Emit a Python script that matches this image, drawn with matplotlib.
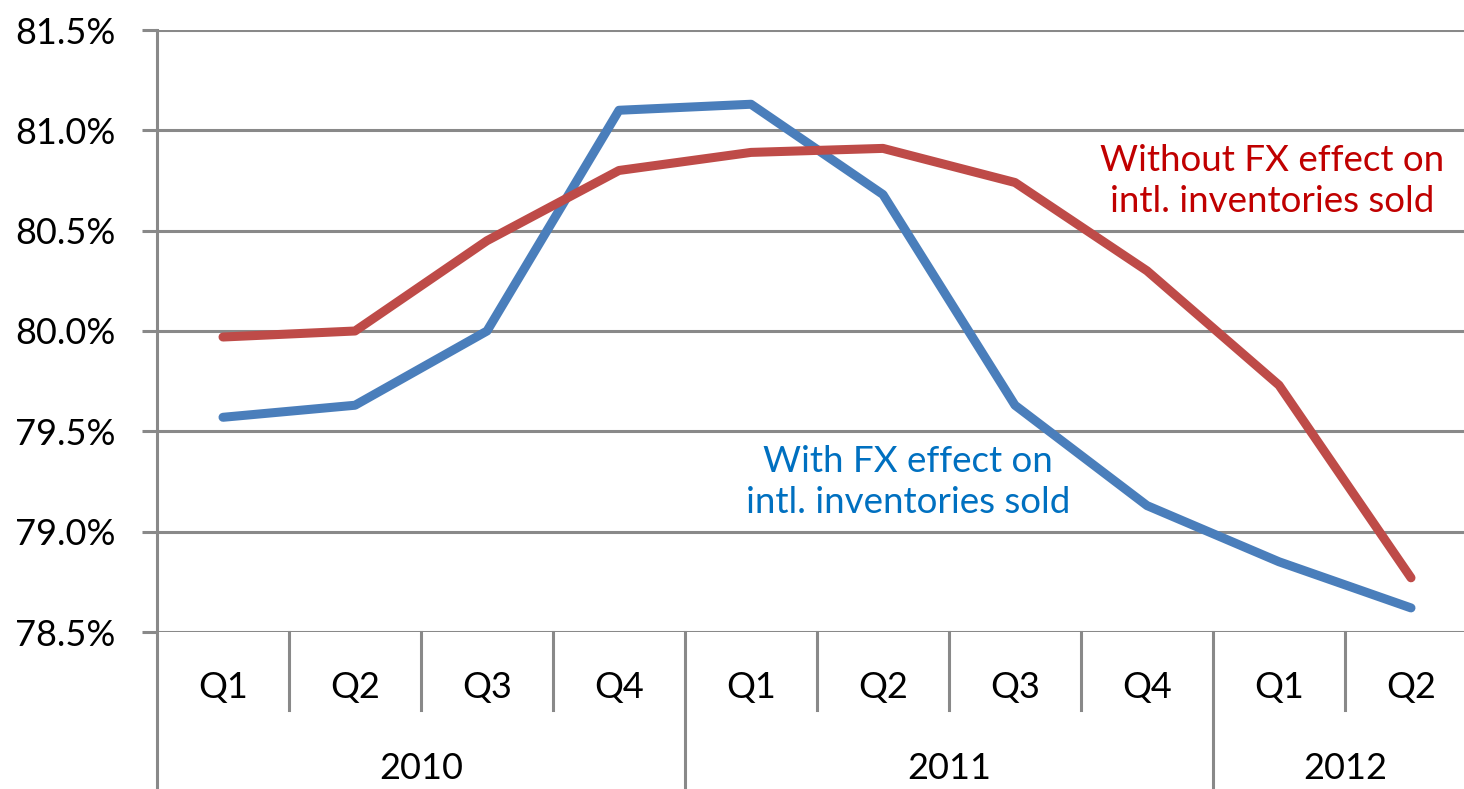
import matplotlib
matplotlib.use("Agg")
import matplotlib.pyplot as plt
from matplotlib.ticker import FuncFormatter
import matplotlib.transforms as mtransforms

quarters = ["Q1", "Q2", "Q3", "Q4", "Q1", "Q2", "Q3", "Q4", "Q1", "Q2"]
years = ["2010", "2011", "2012"]
year_spans = [(0, 3), (4, 7), (8, 9)]
with_fx = [79.57, 79.63, 80.00, 81.10, 81.13, 80.68, 79.63, 79.13, 78.85, 78.62]
without_fx = [79.97, 80.00, 80.45, 80.80, 80.89, 80.91, 80.74, 80.30, 79.73, 78.77]

plt.rcParams["font.family"] = ["Lato", "DejaVu Sans"]
GRID = "#898989"

fig = plt.figure(figsize=(14.64, 7.89), dpi=100)
ax = fig.add_axes([157 / 1464, 1 - 632 / 789, 1320 / 1464, 602 / 789])

x = list(range(len(quarters)))
ax.plot(x, with_fx, color="#4A7EBB", linewidth=6.5, solid_capstyle="round", solid_joinstyle="round", zorder=3)
ax.plot(x, without_fx, color="#BE4B48", linewidth=6.5, solid_capstyle="round", solid_joinstyle="round", zorder=3)

ax.set_xlim(-0.5, len(quarters) - 0.5)
ax.set_ylim(78.5, 81.5)
ax.set_yticks([78.5, 79.0, 79.5, 80.0, 80.5, 81.0, 81.5])
ax.yaxis.set_major_formatter(FuncFormatter(lambda v, _: f"{v:.1f}%"))
ax.yaxis.grid(True, color=GRID, linewidth=2.2)
ax.set_axisbelow(True)
ax.tick_params(axis="y", length=11, width=2.2, color=GRID, pad=19, labelsize=26)
ax.set_xticks([])
for s in ["top", "right", "bottom", "left"]:
    ax.spines[s].set_visible(False)

trans = mtransforms.blended_transform_factory(ax.transData, ax.transAxes)
# left axis line running down through the category area
ax.plot([-0.5, -0.5], [1, -0.261], transform=trans, color=GRID, linewidth=2.2, clip_on=False)
# quarter / year separators
for i in range(1, len(quarters)):
    bound = i - 0.5
    is_year = any(bound == s - 0.5 for s, _ in year_spans)
    y0 = -0.261 if is_year else -0.1296
    ax.plot([bound, bound], [0, y0], transform=trans, color=GRID, linewidth=2.2, clip_on=False)
for i, q in enumerate(quarters):
    ax.text(i, -0.0914, q, transform=trans, ha="center", va="center", fontsize=26)
for yr, (a, b) in zip(years, year_spans):
    ax.text((a + b) / 2, -0.226, yr, transform=trans, ha="center", va="center", fontsize=26)

ax.text(7.947, 80.748, "Without FX effect on\nintl. inventories sold", color="#C00000",
        ha="center", va="center", fontsize=26.5, linespacing=1.3)
ax.text(5.19, 79.248, "With FX effect on\nintl. inventories sold", color="#0070C0",
        ha="center", va="center", fontsize=26.5, linespacing=1.3)

fig.savefig("out.png", dpi=100)
